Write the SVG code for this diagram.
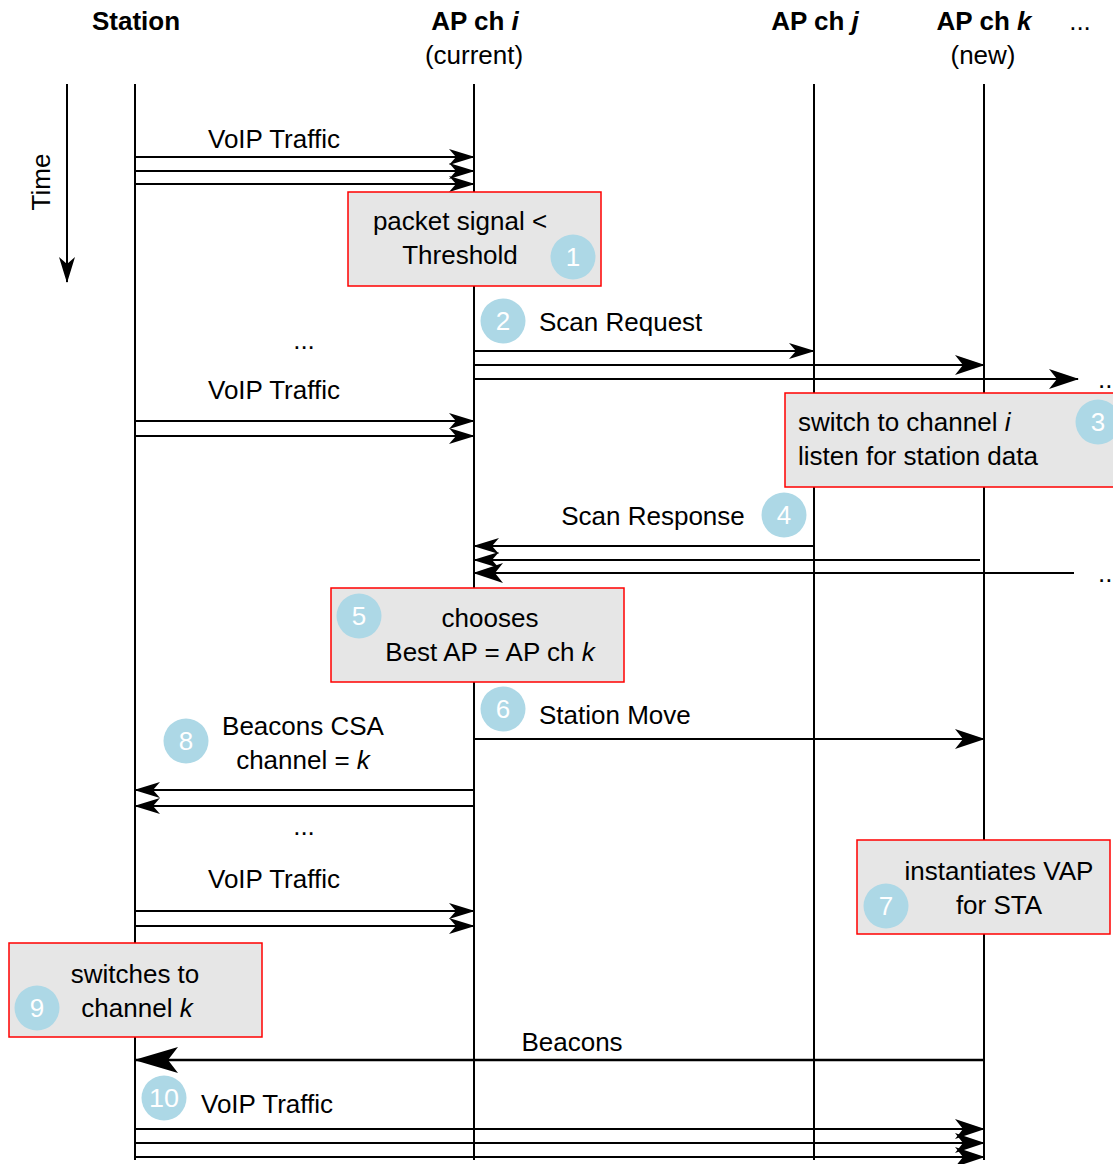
<svg xmlns="http://www.w3.org/2000/svg" width="1113" height="1164" viewBox="0 0 1113 1164">
<style>
text{font-family:"Liberation Sans",Arial,sans-serif;font-size:26px;fill:#000}
.b{font-weight:bold}
.m{text-anchor:middle}
.life{stroke:#000;stroke-width:2;fill:none}
.msg{stroke:#000;stroke-width:2;fill:none}
.box{fill:#e6e6e6;stroke:#ff0000;stroke-width:1.5}
.num{fill:#add8e6}
.nt{fill:#fff;text-anchor:middle}
</style>
<defs>
<marker id="a" markerUnits="userSpaceOnUse" markerWidth="26" markerHeight="16" viewBox="0 0 26 16" refX="25" refY="8" orient="auto">
<path d="M0,0 L26,8 L0,16 L7,8 Z" fill="#000"/>
</marker>
<marker id="a2" markerUnits="userSpaceOnUse" markerWidth="30" markerHeight="20" viewBox="0 0 30 20" refX="29" refY="10" orient="auto">
<path d="M0,0 L30,10 L0,20 L8,10 Z" fill="#000"/>
</marker>
<marker id="a3" markerUnits="userSpaceOnUse" markerWidth="44" markerHeight="26" viewBox="0 0 44 26" refX="43" refY="13" orient="auto">
<path d="M0,0 L44,13 L0,26 L10,13 Z" fill="#000"/>
</marker>
</defs>

<g id="headers">
<text class="b m" x="136" y="30">Station</text>
<text class="b m" x="475" y="30">AP ch <tspan font-style="italic">i</tspan></text>
<text class="m" x="474" y="64">(current)</text>
<text class="b m" x="815" y="30">AP ch <tspan font-style="italic">j</tspan></text>
<text class="b m" x="984" y="30">AP ch <tspan font-style="italic">k</tspan></text>
<text class="m" x="983" y="64">(new)</text>
<text class="m" x="1080" y="30">...</text>
</g>

<g id="time">
<line x1="67" y1="84" x2="67" y2="282" class="life" marker-end="url(#a)"/>
<text class="m" transform="translate(50,182) rotate(-90)">Time</text>
</g>

<g id="lifelines">
<line id="station" x1="135" y1="84" x2="135" y2="1160" class="life"/>
<line id="ap-i" x1="474" y1="84" x2="474" y2="1160" class="life"/>
<line id="ap-j" x1="814" y1="84" x2="814" y2="1160" class="life"/>
<line id="ap-k" x1="984" y1="84" x2="984" y2="1160" class="life"/>
</g>

<g id="connectors">
<line x1="135" y1="157" x2="474" y2="157" class="msg" marker-end="url(#a)"/>
<line x1="135" y1="171" x2="474" y2="171" class="msg" marker-end="url(#a)"/>
<line x1="135" y1="184" x2="474" y2="184" class="msg" marker-end="url(#a)"/>

<line x1="474" y1="351" x2="814" y2="351" class="msg" marker-end="url(#a)"/>
<line x1="474" y1="365" x2="984" y2="365" class="msg" marker-end="url(#a2)"/>
<line x1="474" y1="379" x2="1078" y2="379" class="msg" marker-end="url(#a2)"/>

<line x1="135" y1="421" x2="474" y2="421" class="msg" marker-end="url(#a)"/>
<line x1="135" y1="436" x2="474" y2="436" class="msg" marker-end="url(#a)"/>

<line x1="814" y1="546" x2="474" y2="546" class="msg" marker-end="url(#a)"/>
<line x1="980" y1="560" x2="474" y2="560" class="msg" marker-end="url(#a)"/>
<line x1="1074" y1="573" x2="474" y2="573" class="msg" marker-end="url(#a2)"/>

<line x1="474" y1="739" x2="984" y2="739" class="msg" marker-end="url(#a2)"/>

<line x1="474" y1="790" x2="135" y2="790" class="msg" marker-end="url(#a)"/>
<line x1="474" y1="806" x2="135" y2="806" class="msg" marker-end="url(#a)"/>

<line x1="135" y1="911" x2="474" y2="911" class="msg" marker-end="url(#a)"/>
<line x1="135" y1="926" x2="474" y2="926" class="msg" marker-end="url(#a)"/>

<line x1="984" y1="1060" x2="135" y2="1060" stroke="#000" stroke-width="2.5" fill="none" marker-end="url(#a3)"/>

<line x1="135" y1="1129" x2="984" y2="1129" class="msg" marker-end="url(#a2)"/>
<line x1="135" y1="1143" x2="984" y2="1143" class="msg" marker-end="url(#a2)"/>
<line x1="135" y1="1157" x2="984" y2="1157" class="msg" marker-end="url(#a2)"/>
</g>

<g id="labels">
<text class="m" x="274" y="148">VoIP Traffic</text>
<text x="539" y="331">Scan Request</text>
<text class="m" x="304" y="349">...</text>
<text x="1098" y="388">...</text>
<text class="m" x="274" y="399">VoIP Traffic</text>
<text class="m" x="653" y="525">Scan Response</text>
<text x="1098" y="582">...</text>
<text x="539" y="724">Station Move</text>
<text class="m" x="303" y="735">Beacons CSA</text>
<text class="m" x="303" y="769">channel = <tspan font-style="italic">k</tspan></text>
<text class="m" x="304" y="835">...</text>
<text class="m" x="274" y="888">VoIP Traffic</text>
<text class="m" x="572" y="1051">Beacons</text>
<text x="201" y="1113">VoIP Traffic</text>
</g>

<g id="n1">
<rect class="box" x="348" y="192" width="253" height="94"/>
<text class="m" x="460" y="230">packet signal &lt;</text>
<text class="m" x="460" y="264">Threshold</text>
<circle class="num" cx="573" cy="257" r="22.5"/>
<text class="nt" x="573" y="266">1</text>
</g>

<g id="n2">
<circle class="num" cx="503" cy="321" r="22.5"/>
<text class="nt" x="503" y="330">2</text>
</g>

<g id="n3">
<rect class="box" x="785" y="393" width="340" height="94"/>
<text x="798" y="431">switch to channel <tspan font-style="italic">i</tspan></text>
<text x="798" y="465">listen for station data</text>
<circle class="num" cx="1098" cy="422" r="22.5"/>
<text class="nt" x="1098" y="431">3</text>
</g>

<g id="n4">
<circle class="num" cx="784" cy="515" r="22.5"/>
<text class="nt" x="784" y="524">4</text>
</g>

<g id="n5">
<rect class="box" x="331" y="588" width="293" height="94"/>
<text class="m" x="490" y="627">chooses</text>
<text class="m" x="490" y="661">Best AP = AP ch <tspan font-style="italic">k</tspan></text>
<circle class="num" cx="359" cy="616" r="22.5"/>
<text class="nt" x="359" y="625">5</text>
</g>

<g id="n6">
<circle class="num" cx="503" cy="709" r="22.5"/>
<text class="nt" x="503" y="718">6</text>
</g>

<g id="n7">
<rect class="box" x="857" y="840" width="253" height="94"/>
<text class="m" x="999" y="880">instantiates VAP</text>
<text class="m" x="999" y="914">for STA</text>
<circle class="num" cx="886" cy="906" r="22.5"/>
<text class="nt" x="886" y="915">7</text>
</g>

<g id="n8">
<circle class="num" cx="186" cy="741" r="22.5"/>
<text class="nt" x="186" y="750">8</text>
</g>

<g id="n9">
<rect class="box" x="9" y="943" width="253" height="94"/>
<text class="m" x="135" y="983">switches to</text>
<text class="m" x="137" y="1017">channel <tspan font-style="italic">k</tspan></text>
<circle class="num" cx="37" cy="1008" r="22.5"/>
<text class="nt" x="37" y="1017">9</text>
</g>

<g id="n10">
<circle class="num" cx="164" cy="1098" r="22.5"/>
<text class="nt" x="164" y="1107" textLength="30" lengthAdjust="spacingAndGlyphs">10</text>
</g>
</svg>
